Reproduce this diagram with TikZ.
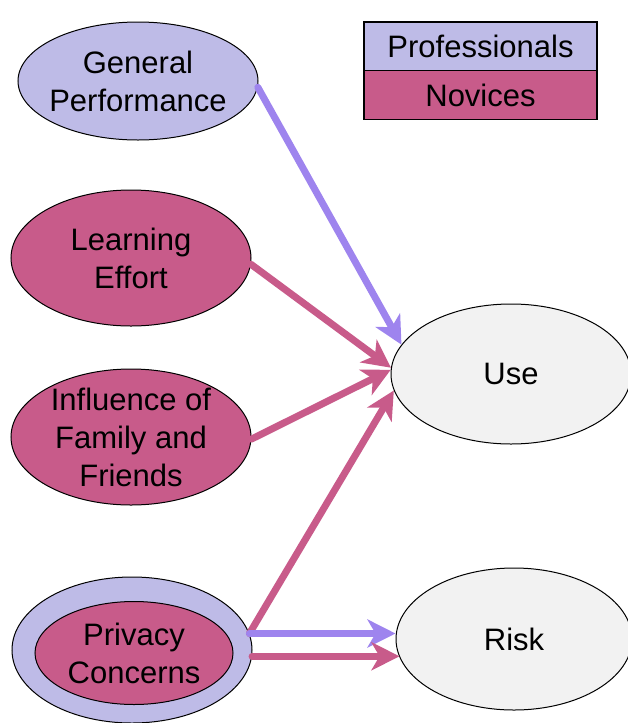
\documentclass[tikz,border=0pt]{standalone}
\usepackage{fontspec}
\setmainfont{Liberation Sans}
\usepackage{tikz}
\usetikzlibrary{arrows.meta,shapes.geometric}
\definecolor{prolav}{HTML}{BEBBE7}
\definecolor{novmag}{HTML}{C85B8A}
\definecolor{proline}{HTML}{9E84EE}
\definecolor{outgray}{HTML}{F2F2F2}
\begin{document}
\begin{tikzpicture}[x=0.5pt,y=-0.5pt,
    every node/.style={font=\fontsize{15.5pt}{19pt}\selectfont,align=center},
    oval/.style={ellipse,draw=black,line width=0.5pt,inner sep=-8pt},
    legendbox/.style={rectangle,draw=black,line width=0.8pt,inner sep=0pt,
      minimum width=116.5pt,minimum height=24.5pt},
    arr/.style={line width=3.5pt,line cap=round,
      -{Stealth[length=14pt,width=14pt,inset=4pt]}},
    proarr/.style={arr,color=proline},
    novarr/.style={arr,color=novmag}]
  \useasboundingbox (0,0) rectangle (627,723);

   \draw (138,81) node[oval,fill=prolav,minimum width=120pt,minimum height=59pt] (general) {General\\Performance};
   \draw (131,258) node[oval,fill=novmag,minimum width=120pt,minimum height=68pt] (learning) {Learning\\Effort};
   \draw (131,437) node[oval,fill=novmag,minimum width=120pt,minimum height=68pt] (influence) {Influence of\\Family and\\Friends};
   \draw (132,650) node[oval,fill=prolav,minimum width=120pt,minimum height=73pt] (privacy) {};
   \draw (134,653) node[oval,fill=novmag,minimum width=99pt,minimum height=51.5pt] (privacyin) {Privacy\\Concerns};

   \draw (511,374) node[oval,fill=outgray,minimum width=120pt,minimum height=70pt] (use) {Use};
   \draw (514,639) node[oval,fill=outgray,minimum width=118pt,minimum height=71pt] (risk) {Risk};

   \draw (480.5,46.5) node[legendbox,fill=prolav] (pro) {Professionals};
   \draw (480.5,95) node[legendbox,fill=novmag] (nov) {Novices};

     \path[proarr] (general.-3) edge (use.165);
     \path[novarr] (learning.-3) edge (use.177);
     \path[novarr] (influence.-1) edge (use.178);
     \path[novarr] (privacy.8) edge (use.188);
     \path[proarr] (privacy.8) edge (privacy.8 -| risk.west);
     \path[novarr] (privacy.-3) edge[shorten >=-2pt] (privacy.-3 -| risk.west);
\end{tikzpicture}
\end{document}
